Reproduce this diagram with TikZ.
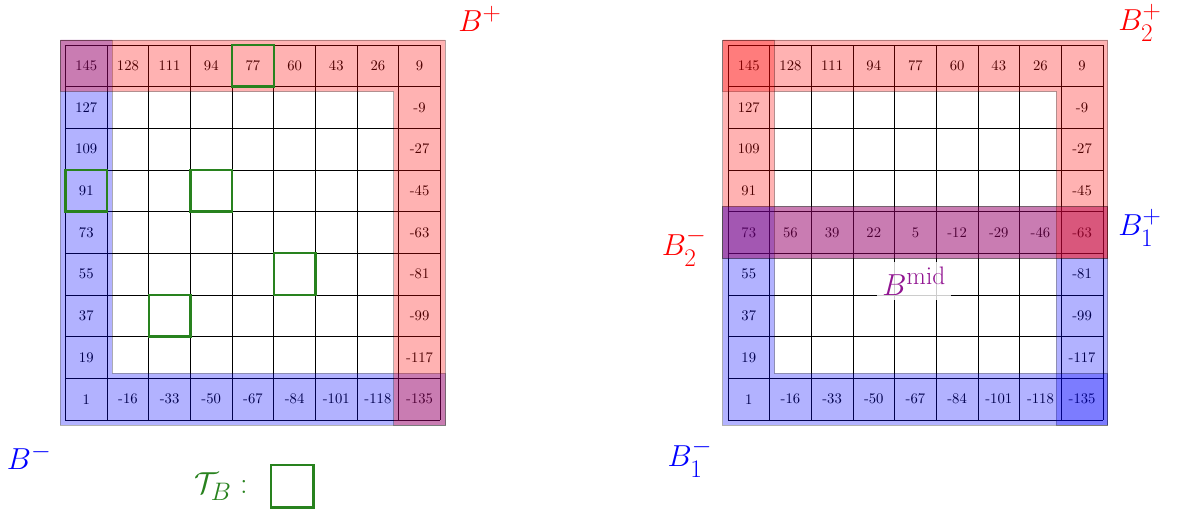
\documentclass[tikz,border=0pt]{standalone}
\usepackage{amsmath,amssymb}
\usetikzlibrary{positioning}
\definecolor{tgreen}{RGB}{40,130,30}
\definecolor{midpurple}{RGB}{145,20,145}
\DeclareMathSizes{22}{22}{18.3}{14}
\newcommand{\pd}{0.12} % band padding
\tikzset{
  gridln/.style={line width=0.4pt,black},
  cellnum/.style={font=\normalsize,inner sep=0pt},
  band/.style={draw=black,opacity=0.3,line width=0.6pt},
  tcell/.style={draw=tgreen,line width=1.6pt},
  biglbl/.style={font=\fontsize{22}{26}\selectfont},
}

\begin{document}
\begin{tikzpicture}
  \useasboundingbox (-1.57,-2.23) rectangle (26.75,10.08);
  % ---- left grid: B^+ and B^- ----
  \draw[gridln] (0,0) grid (9,9);
  \foreach \i in {0,...,8}{
    \pgfmathtruncatemacro{\vt}{145-17*\i}
    \pgfmathtruncatemacro{\vb}{1-17*\i}
    \node[cellnum] (lt\i) at (\i+0.5,8.5) {\vt};
    \node[cellnum] (lb\i) at (\i+0.5,0.5) {\vb};
  }
  \foreach \j in {1,...,7}{
    \pgfmathtruncatemacro{\vl}{145-18*\j}
    \pgfmathtruncatemacro{\vr}{9-18*\j}
    \node[cellnum] (ll\j) at (0.5,8.5-\j) {\vl};
    \node[cellnum] (lr\j) at (8.5,8.5-\j) {\vr};
  }
  \path[band,fill=blue] (-\pd,9+\pd) -- (1+\pd,9+\pd) -- (1+\pd,1+\pd) -- (9+\pd,1+\pd)
    -- (9+\pd,-\pd) -- (-\pd,-\pd) -- cycle;
  \path[band,fill=red] (-\pd,9+\pd) -- (9+\pd,9+\pd) -- (9+\pd,-\pd) -- (8-\pd,-\pd)
    -- (8-\pd,8-\pd) -- (-\pd,8-\pd) -- cycle;
  % cells of T_B
  \foreach \cx/\cy in {4/8, 0/5, 3/5, 5/3, 2/2}
    \draw[tcell] (\cx,\cy) rectangle +(1,1);
  \node[biglbl,text=red] (bplus) at (9.95,9.62) {$B^+$};
  \node[biglbl,text=blue] (bminus) at (-0.87,-0.89) {$B^-$};
  \node[tcell,minimum size=1.02cm,inner sep=0pt] (tbox) at (5.44,-1.59) {};
  \node[biglbl,text=tgreen,left=0.4cm of tbox] (tlab) {$\mathcal{T}_B:$};

  % ---- right grid: split into two blocks ----
  \begin{scope}[xshift=15.9cm]
    \draw[gridln] (0,0) grid (9,9);
    \foreach \i in {0,...,8}{
      \pgfmathtruncatemacro{\vt}{145-17*\i}
      \pgfmathtruncatemacro{\vb}{1-17*\i}
      \node[cellnum] (rt\i) at (\i+0.5,8.5) {\vt};
      \node[cellnum] (rb\i) at (\i+0.5,0.5) {\vb};
    }
    \foreach \j in {1,...,7}{
      \pgfmathtruncatemacro{\vl}{145-18*\j}
      \pgfmathtruncatemacro{\vr}{9-18*\j}
      \node[cellnum] (rl\j) at (0.5,8.5-\j) {\vl};
      \node[cellnum] (rr\j) at (8.5,8.5-\j) {\vr};
    }
    \foreach \i in {1,...,7}{
      \pgfmathtruncatemacro{\vm}{73-17*\i}
      \node[cellnum] (rm\i) at (\i+0.5,4.5) {\vm};
    }
    \path[band,fill=blue] (-\pd,5+\pd) -- (9+\pd,5+\pd) -- (9+\pd,-\pd) -- (8-\pd,-\pd)
      -- (8-\pd,4-\pd) -- (-\pd,4-\pd) -- cycle;
    \path[band,fill=blue] (-\pd,5+\pd) -- (1+\pd,5+\pd) -- (1+\pd,1+\pd) -- (9+\pd,1+\pd)
      -- (9+\pd,-\pd) -- (-\pd,-\pd) -- cycle;
    \path[band,fill=red] (-\pd,9+\pd) -- (9+\pd,9+\pd) -- (9+\pd,4-\pd) -- (8-\pd,4-\pd)
      -- (8-\pd,8-\pd) -- (-\pd,8-\pd) -- cycle;
    \path[band,fill=red] (-\pd,9+\pd) -- (1+\pd,9+\pd) -- (1+\pd,5+\pd) -- (9+\pd,5+\pd)
      -- (9+\pd,4-\pd) -- (-\pd,4-\pd) -- cycle;
    \node[biglbl,text=red] (btwoplus) at (9.89,9.52) {$B_2^+$};
    \node[biglbl,text=blue] (boneplus) at (9.89,4.61) {$B_1^+$};
    \node[biglbl,text=red] (btwominus) at (-1.05,4.15) {$B_2^-$};
    \node[biglbl,text=blue] (boneminus) at (-0.91,-0.91) {$B_1^-$};
    \node[biglbl,text=midpurple,fill=white,fill opacity=0.8,text opacity=1]
      (bmid) at (4.47,3.34) {$B^{\mathrm{mid}}$};
  \end{scope}
\end{tikzpicture}
\end{document}
